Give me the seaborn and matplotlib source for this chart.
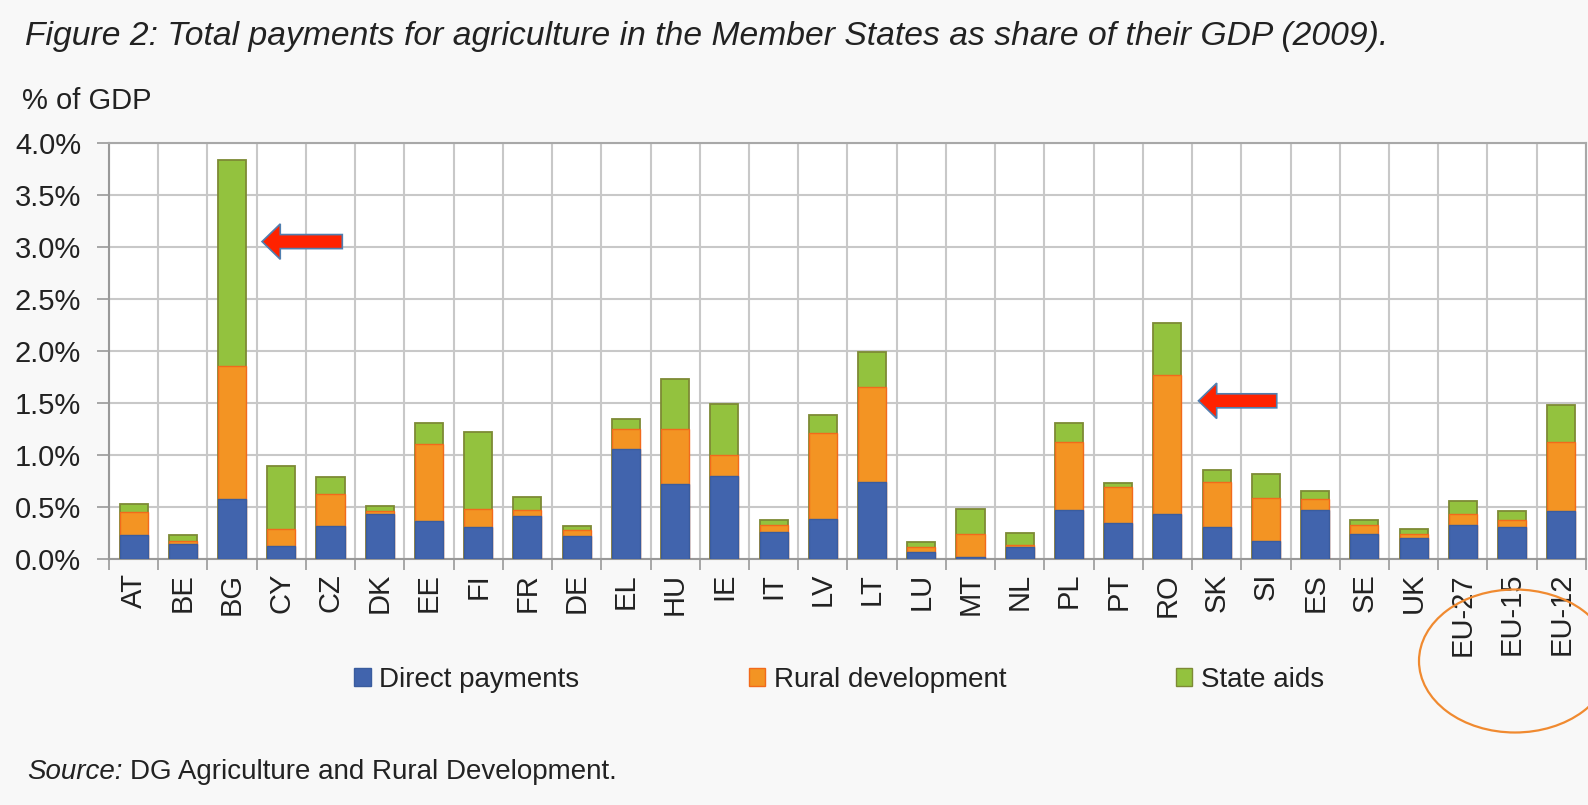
import numpy as np
import pandas as pd
import seaborn as sns
import matplotlib.pyplot as plt
from matplotlib.patches import Patch, FancyArrow, Ellipse

# Member states + EU aggregates (share of GDP, %, 2009)
countries = ["AT", "BE", "BG", "CY", "CZ", "DK", "EE", "FI", "FR", "DE",
             "EL", "HU", "IE", "IT", "LV", "LT", "LU", "MT", "NL", "PL",
             "PT", "RO", "SK", "SI", "ES", "SE", "UK", "EU-27", "EU-15", "EU-12"]
direct = [0.234, 0.148, 0.581, 0.128, 0.321, 0.430, 0.369, 0.305, 0.411, 0.218,
          1.053, 0.716, 0.796, 0.260, 0.388, 0.738, 0.064, 0.022, 0.112, 0.475,
          0.347, 0.433, 0.305, 0.177, 0.475, 0.241, 0.202, 0.324, 0.305, 0.459]
rural = [0.219, 0.022, 1.271, 0.161, 0.308, 0.029, 0.732, 0.177, 0.064, 0.065,
         0.199, 0.536, 0.199, 0.064, 0.819, 0.919, 0.048, 0.219, 0.026, 0.649,
         0.346, 1.333, 0.433, 0.410, 0.106, 0.090, 0.039, 0.113, 0.074, 0.665]
state_aids = [0.080, 0.058, 1.984, 0.607, 0.158, 0.048, 0.202, 0.738, 0.119, 0.032,
              0.096, 0.475, 0.498, 0.055, 0.180, 0.333, 0.052, 0.244, 0.112, 0.179,
              0.033, 0.500, 0.113, 0.225, 0.077, 0.048, 0.051, 0.118, 0.086, 0.353]
y_ticks = [0.0, 0.5, 1.0, 1.5, 2.0, 2.5, 3.0, 3.5, 4.0]

df = pd.DataFrame({"country": countries, "direct": direct,
                   "rural": rural, "aids": state_aids})
df["dr"] = df["direct"] + df["rural"]
df["total"] = df["dr"] + df["aids"]

BLUE, ORANGE, GREEN = "#4164ad", "#f39423", "#93c23e"
BG = "#f8f8f8"

sns.set_style("white")
plt.rcParams["font.family"] = ["Liberation Sans", "DejaVu Sans"]
plt.rcParams["text.color"] = "#222222"

fig = plt.figure(figsize=(15.88, 8.05), dpi=100, facecolor=BG)
ax = fig.add_axes([0.0686, 0.3056, 0.9301, 0.5171])
ax.set_facecolor("white")
ax.set_axisbelow(True)

# stacked bars: draw cumulative totals from the top layer down
sns.barplot(data=df, x="country", y="total", order=countries, color=GREEN,
            width=0.57, edgecolor="#7d8a35", linewidth=1.3, saturation=1,
            errorbar=None, ax=ax, zorder=3)
sns.barplot(data=df, x="country", y="dr", order=countries, color=ORANGE,
            width=0.57, edgecolor="#f26a1b", linewidth=1.0, saturation=1,
            errorbar=None, ax=ax, zorder=4)
sns.barplot(data=df, x="country", y="direct", order=countries, color=BLUE,
            width=0.57, edgecolor="#3a5c9e", linewidth=1.0, saturation=1,
            errorbar=None, ax=ax, zorder=5)

ax.set_xlim(-0.5, len(countries) - 0.5)
ax.set_ylim(0, 4.0)
ax.set_yticks(y_ticks)
ax.set_yticklabels([f"{v:.1f}%" for v in y_ticks])
ax.set_xticks(np.arange(-0.5, len(countries), 1), minor=True)
ax.set_xlabel("")
ax.set_ylabel("")

ax.grid(axis="y", which="major", color="#c8c8c8", linewidth=1.5)
ax.grid(axis="x", which="minor", color="#c8c8c8", linewidth=1.5)
ax.grid(axis="x", which="major", visible=False)

ax.tick_params(axis="x", which="major", length=0, pad=10, labelsize=21,
               rotation=90, labelcolor="#222222")
ax.tick_params(axis="x", which="minor", length=8, width=1.3, color="#a0a0a0",
               direction="out", bottom=True)
ax.tick_params(axis="y", length=9, width=1.3, color="#a0a0a0", pad=11,
               labelsize=21, labelcolor="#222222", left=True)
for s in ax.spines.values():
    s.set_color("#a8a8a8")
    s.set_linewidth(1.5)
ax.spines["left"].set_color("#999999")
ax.spines["bottom"].set_color("#999999")

# red call-out arrows
for tail, tip, yv in [(4.24, 2.61, 3.05), (23.22, 21.63, 1.52)]:
    ax.add_patch(FancyArrow(tail, yv, tip - tail, 0, width=0.135,
                            head_width=0.34, head_length=0.37,
                            length_includes_head=True, facecolor="#ff2200",
                            edgecolor="#4f7fb0", linewidth=1.2, zorder=6))

# orange ring around the EU aggregates
fig.patches.append(Ellipse((1515 / 1588, 1 - 661 / 805), 192 / 1588, 143 / 805,
                           transform=fig.transFigure, fill=False,
                           edgecolor="#f08a30", linewidth=1.6))

fig.text(25 / 1588, 1 - 37 / 805,
         "Figure 2: Total payments for agriculture in the Member States as share of their GDP (2009).",
         fontsize=24.2, style="italic", va="center", ha="left")
fig.text(22 / 1588, 1 - 101 / 805, "% of GDP", fontsize=21, va="center", ha="left")

handles = [Patch(facecolor=BLUE, edgecolor="#3a5c9e"),
           Patch(facecolor=ORANGE, edgecolor="#f26a1b"),
           Patch(facecolor=GREEN, edgecolor="#7d8a35")]
fig.legend(handles, ["Direct payments", "Rural development", "State aids"],
           loc="center", bbox_to_anchor=(839 / 1588, 1 - 680 / 805), ncol=3,
           frameon=False, fontsize=20, handlelength=0.6, handleheight=0.6,
           handletextpad=0.3, columnspacing=6.1)

src = fig.text(27 / 1588, 1 - 772 / 805, "Source:", fontsize=20,
               style="italic", va="center", ha="left")
r = fig.canvas.get_renderer()
bb = src.get_window_extent(renderer=r)
fig.text((bb.x1 + 7) / 1588, 1 - 772 / 805, "DG Agriculture and Rural Development.",
         fontsize=20, va="center", ha="left")

fig.savefig("out.png", dpi=100, facecolor=BG)
